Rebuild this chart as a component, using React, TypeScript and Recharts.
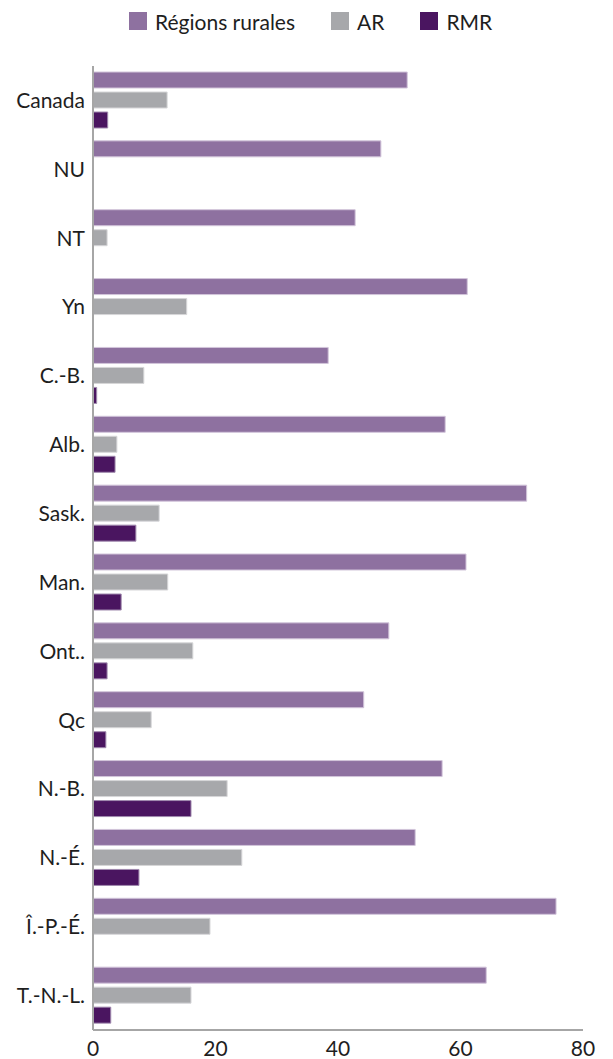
import * as React from 'react';
import { BarChart, Bar, XAxis, YAxis, Legend } from 'recharts';

const categories = ['Canada', 'NU', 'NT', 'Yn', 'C.-B.', 'Alb.', 'Sask.', 'Man.', 'Ont..', 'Qc', 'N.-B.', 'N.-É.', 'Î.-P.-É.', 'T.-N.-L.'];
const rural = [51.3, 47.0, 42.8, 61.1, 38.4, 57.5, 70.8, 60.9, 48.3, 44.2, 57.0, 52.6, 75.6, 64.2];
const ar = [12.1, 0, 2.3, 15.3, 8.3, 3.9, 10.8, 12.2, 16.3, 9.5, 21.9, 24.3, 19.1, 16.0];
const rmr = [2.4, 0, 0, 0, 0.6, 3.6, 7.0, 4.6, 2.3, 2.1, 16.0, 7.5, 0, 2.9];
const xTicks = [0, 20, 40, 60, 80];

const series = [
  { key: 'rural', name: 'Régions rurales', fill: '#8e71a0', stroke: '#d2c5da' },
  { key: 'ar', name: 'AR', fill: '#a7a8ab', stroke: '#d6d6d8' },
  { key: 'rmr', name: 'RMR', fill: '#4a1560', stroke: '#a08aae' },
];

const data = categories.map((name, i) => ({
  name,
  rural: rural[i],
  ar: ar[i],
  rmr: rmr[i],
}));

const font = 'Lato, "Noto Sans", sans-serif';
const textColor = '#1e1e1e';

function ChartLegend(): React.ReactElement {
  return (
    <div style={{ display: 'flex', alignItems: 'center', fontFamily: font, fontSize: 21, color: textColor, height: 24, paddingLeft: 129 }}>
      {series.map((s) => (
        <div key={s.key} style={{ display: 'flex', alignItems: 'center', marginRight: 36 }}>
          <span style={{ width: 18, height: 18, background: s.fill, display: 'inline-block', marginRight: 8 }} />
          <span>{s.name}</span>
        </div>
      ))}
    </div>
  );
}

export default function App(): React.ReactElement {
  return (
    <div>
      <style>{'body{margin:0;background:#fff}'}</style>
      <BarChart
        width={613}
        height={1059}
        data={data}
        layout="vertical"
        margin={{ top: 42, right: 30, bottom: 0, left: 0 }}
      >
        <Legend
          verticalAlign="top"
          content={() => <ChartLegend />}
          wrapperStyle={{ top: 9, left: 0, width: 613 }}
        />
        <XAxis
          type="number"
          domain={[0, 80]}
          ticks={xTicks}
          tickLine={false}
          tickMargin={5}
          axisLine={{ stroke: '#a6a6a6', strokeWidth: 2 }}
          tick={{ fill: textColor, fontSize: 21, fontFamily: font }}
          height={29}
          interval={0}
        />
        <YAxis
          type="category"
          dataKey="name"
          width={93}
          tickLine={false}
          axisLine={{ stroke: '#a6a6a6', strokeWidth: 2 }}
          tick={{ fill: textColor, fontSize: 21, fontFamily: font }}
          interval={0}
        />
        {series.map((s) => (
          <Bar
            key={s.key}
            dataKey={s.key}
            name={s.name}
            fill={s.fill}
            stroke={s.stroke}
            strokeWidth={1}
            barSize={16}
            isAnimationActive={false}
          />
        ))}
      </BarChart>
    </div>
  );
}
